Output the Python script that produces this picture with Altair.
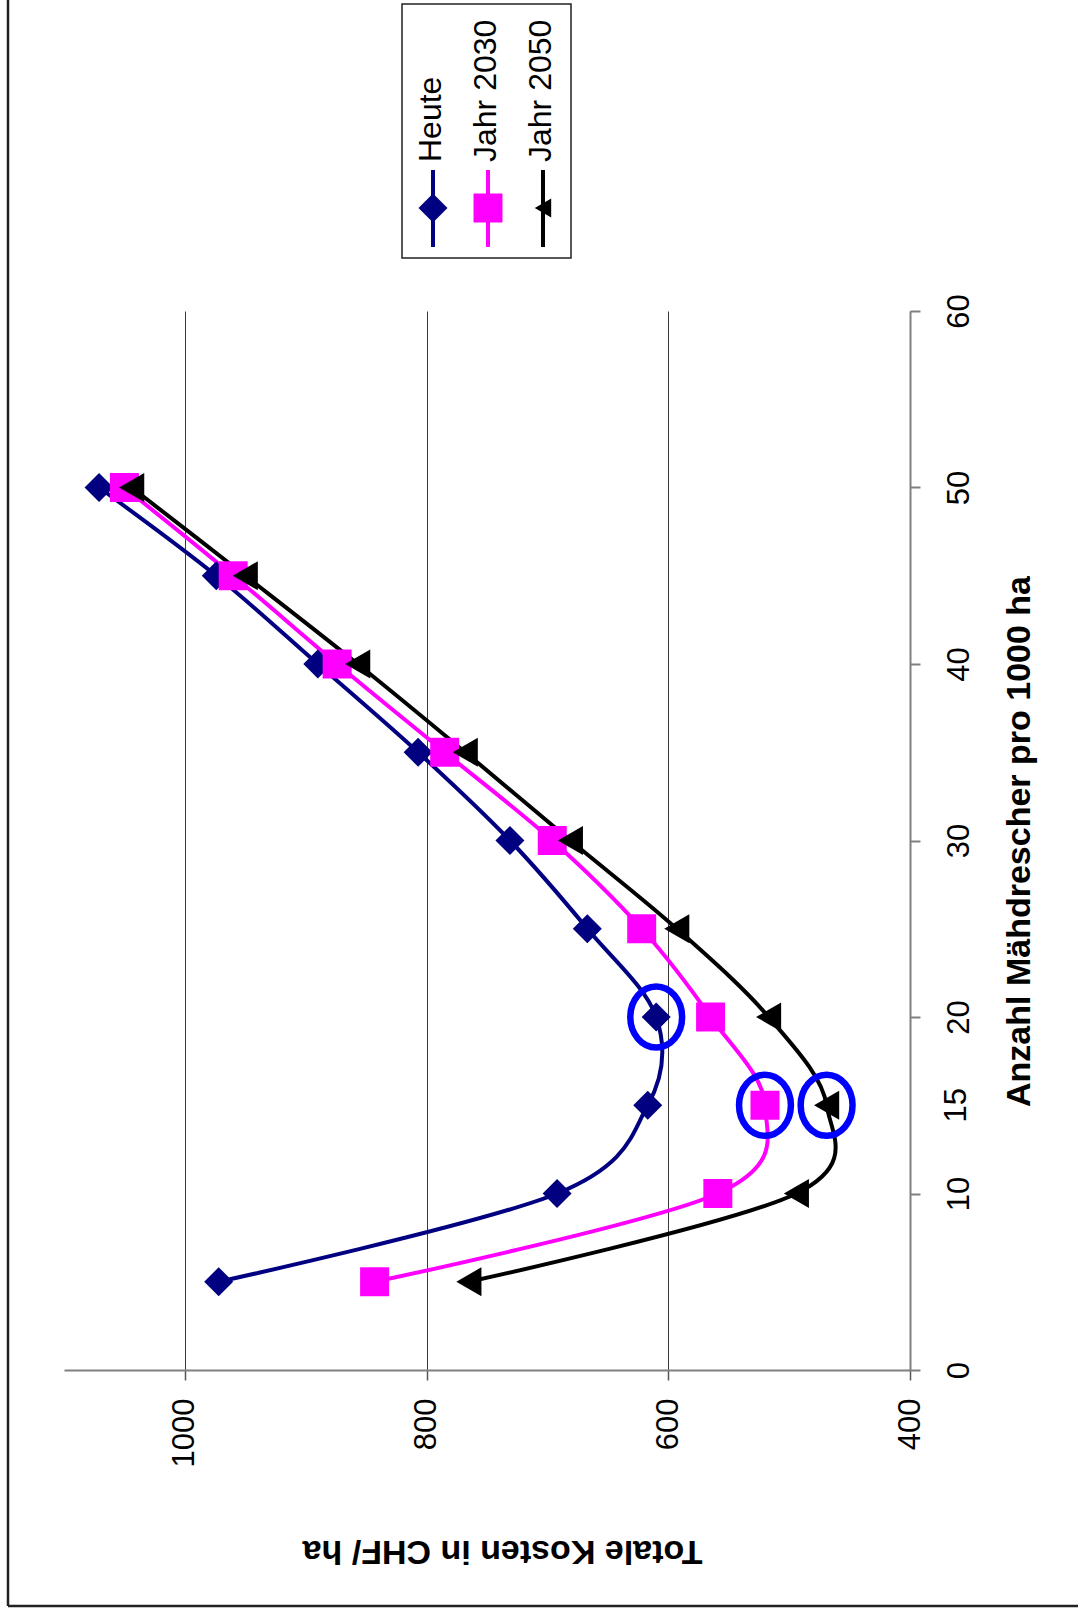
import altair as alt
import pandas as pd

# Anzahl Mähdrescher pro 1000 ha
anzahl = [5, 10, 15, 20, 25, 30, 35, 40, 45, 50]
# Totale Kosten in CHF/ha je Szenario
kosten_heute = [972, 692, 617, 610, 667, 731, 807, 890, 974, 1071]
kosten_2030 = [843, 559, 520, 565, 622, 696, 785, 874, 960, 1050]
kosten_2050 = [765, 494, 469, 517, 593, 681, 768, 857, 950, 1044]

serien = ["Heute", "Jahr 2030", "Jahr 2050"]
farben = ["#000080", "#FF00FF", "#000000"]
symbole = ["diamond", "square", "triangle-left"]
symbolgroesse = [840, 840, 360]

# Kostenminimum je Szenario (blau eingekreist)
minimum_anzahl = [20, 15, 15]
minimum_kosten = [610, 520, 469]

achse_kosten = [400, 600, 800, 1000]
achse_anzahl = [0, 10, 20, 30, 40, 50, 60]

FONT = "Liberation Sans"

# plot area geometry (pixels)
PAD_L, PAD_T = 64, 311
W, H = 846, 1059
PAGE_W, PAGE_H = 1078, 1614

rows = []
for name, werte in zip(serien, [kosten_heute, kosten_2030, kosten_2050]):
    for a, k in zip(anzahl, werte):
        rows.append({"serie": name, "anzahl": a, "kosten": k})
df = pd.DataFrame(rows)

minima = pd.DataFrame({"serie": serien, "anzahl": minimum_anzahl, "kosten": minimum_kosten})

x_enc = alt.X(
    "kosten:Q",
    scale=alt.Scale(domain=[400, 1100], reverse=True, nice=False, zero=False),
    axis=alt.Axis(
        orient="bottom",
        values=achse_kosten,
        format="d",
        grid=True,
        gridColor="#3a3a3a",
        gridWidth=1,
        domainColor="#808080",
        domainWidth=2,
        tickColor="#555555",
        tickWidth=1.5,
        tickSize=10,
        labelAngle=270,
        labelAlign="right",
        labelBaseline="middle",
        labelPadding=18,
        labelFont=FONT,
        labelFontSize=31,
        labelColor="#000000",
        title="Totale Kosten in CHF/ ha",
        titleFont=FONT,
        titleFontSize=34,
        titleFontWeight="bold",
        titleColor="#000000",
        titleAngle=180,
        titleAlign="center",
        titleBaseline="middle",
        titleX=438,
        titleY=180,
    ),
)

y_enc = alt.Y(
    "anzahl:Q",
    scale=alt.Scale(domain=[0, 60], nice=False, zero=True),
    axis=alt.Axis(
        orient="right",
        values=achse_anzahl,
        format="d",
        grid=False,
        domainColor="#808080",
        domainWidth=2,
        tickColor="#808080",
        tickWidth=2,
        tickSize=10,
        labelAngle=270,
        labelAlign="center",
        labelBaseline="top",
        labelPadding=24,
        labelFont=FONT,
        labelFontSize=31,
        labelColor="#000000",
        title="Anzahl Mähdrescher pro 1000 ha",
        titleFont=FONT,
        titleFontSize=34,
        titleFontWeight="bold",
        titleColor="#000000",
        titleAngle=270,
        titleAlign="center",
        titleBaseline="middle",
        titleX=109,
        titleY=530,
    ),
)

farbskala = alt.Scale(domain=serien, range=farben)
formskala = alt.Scale(domain=serien, range=symbole)
groessenskala = alt.Scale(domain=serien, range=symbolgroesse)

linien = alt.Chart(df).mark_line(interpolate="cardinal", strokeWidth=4).encode(
    x=x_enc,
    y=y_enc,
    color=alt.Color("serie:N", scale=farbskala, legend=None),
    order=alt.Order("anzahl:Q"),
    detail="serie:N",
)

punkte = alt.Chart(df).mark_point(filled=True, opacity=1).encode(
    x="kosten:Q",
    y="anzahl:Q",
    color=alt.Color("serie:N", scale=farbskala, legend=None),
    shape=alt.Shape("serie:N", scale=formskala, legend=None),
    size=alt.Size("serie:N", scale=groessenskala, legend=None),
)

ELLIPSE = "M -0.85 0 A 0.85 1 0 1 1 0.85 0 A 0.85 1 0 1 1 -0.85 0 Z"
ringe = alt.Chart(minima).mark_point(
    shape=ELLIPSE, filled=False, stroke="#0000FF", strokeWidth=6.5, size=3721, opacity=1
).encode(x="kosten:Q", y="anzahl:Q")

# zusätzliche Beschriftung "15" an der Anzahl-Achse
extra_label = alt.Chart(pd.DataFrame({"anzahl": [15]})).mark_text(
    text="15", angle=270, align="center", baseline="middle",
    font=FONT, fontSize=31, color="#000000"
).encode(x=alt.value(957 - PAD_L), y="anzahl:Q")

# Rahmen um das Diagramm (links und unten)
rahmen_links = alt.Chart(pd.DataFrame({"r": [0]})).mark_rule(
    color="#222222", strokeWidth=2.5
).encode(x=alt.value(8 - PAD_L), y=alt.value(-PAD_T), y2=alt.value(1606 - PAD_T))
rahmen_unten = alt.Chart(pd.DataFrame({"r": [0]})).mark_rule(
    color="#222222", strokeWidth=2.5
).encode(x=alt.value(8 - PAD_L), x2=alt.value(PAGE_W - PAD_L), y=alt.value(1606 - PAD_T))

# Legende (gedreht, oben)
LEG_X0, LEG_DX = 433 - PAD_L, 55
legende = [
    alt.Chart(pd.DataFrame({"r": [0]})).mark_rect(
        fill="white", stroke="#222222", strokeWidth=1.5
    ).encode(
        x=alt.value(402 - PAD_L), x2=alt.value(571 - PAD_L),
        y=alt.value(4 - PAD_T), y2=alt.value(258 - PAD_T),
    )
]
for i, name in enumerate(serien):
    lx = LEG_X0 + LEG_DX * i
    eins = pd.DataFrame({"serie": [name]})
    legende.append(
        alt.Chart(eins).mark_rule(color=farben[i], strokeWidth=4).encode(
            x=alt.value(lx), y=alt.value(170 - PAD_T), y2=alt.value(247 - PAD_T)
        )
    )
    legende.append(
        alt.Chart(eins).mark_point(
            shape=symbole[i], filled=True, color=farben[i], size=symbolgroesse[i], opacity=1
        ).encode(x=alt.value(lx), y=alt.value(208 - PAD_T))
    )
    legende.append(
        alt.Chart(eins).mark_text(
            text=name, angle=270, align="left", baseline="middle",
            font=FONT, fontSize=32, color="#000000"
        ).encode(x=alt.value(lx - 2), y=alt.value(162 - PAD_T))
    )

chart = alt.layer(
    linien, punkte, ringe, extra_label, rahmen_links, rahmen_unten, *legende
).properties(
    width=W,
    height=H,
    padding={"left": PAD_L, "top": PAD_T, "right": PAGE_W - PAD_L - W, "bottom": PAGE_H - PAD_T - H},
    autosize=alt.AutoSizeParams(type="none"),
    background="white",
).configure_view(stroke=None)

chart.save("out.html", embed_options={"renderer": "svg", "actions": False})
